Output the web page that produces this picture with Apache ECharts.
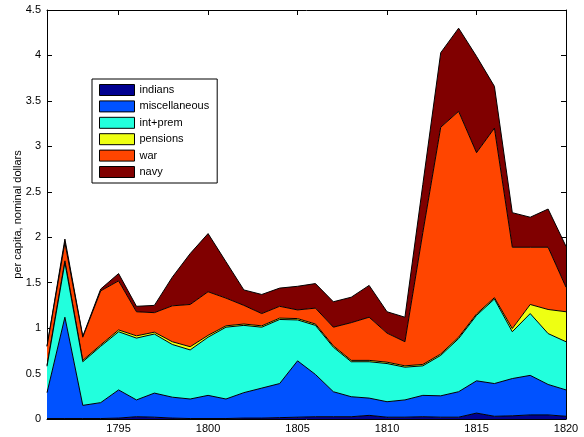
<!DOCTYPE html>
<html>
<head>
<meta charset="utf-8">
<script src="https://cdn.jsdelivr.net/npm/echarts@6/dist/echarts.min.js"></script>
<style>
  html, body { margin: 0; padding: 0; background: #fff; }
  #chart { width: 584px; height: 437px; }
</style>
</head>
<body>
<div id="chart"></div>
<script>
// Federal outlays per capita by category, 1791-1820 (nominal dollars)
const years = [1791, 1792, 1793, 1794, 1795, 1796, 1797, 1798, 1799, 1800,
               1801, 1802, 1803, 1804, 1805, 1806, 1807, 1808, 1809, 1810,
               1811, 1812, 1813, 1814, 1815, 1816, 1817, 1818, 1819, 1820];

const indians = [0.005, 0.005, 0.005, 0.005, 0.01, 0.025, 0.02, 0.01, 0.005, 0.005,
                 0.005, 0.01, 0.01, 0.015, 0.02, 0.025, 0.025, 0.025, 0.04, 0.02,
                 0.02, 0.025, 0.02, 0.02, 0.065, 0.03, 0.035, 0.045, 0.045, 0.03];

const miscellaneous = [0.285, 1.115, 0.145, 0.175, 0.31, 0.185, 0.265, 0.23, 0.215, 0.255,
                       0.215, 0.28, 0.33, 0.375, 0.62, 0.465, 0.275, 0.22, 0.19, 0.17,
                       0.19, 0.235, 0.235, 0.28, 0.355, 0.36, 0.41, 0.435, 0.335, 0.29];

const intPrem = [0.29, 0.60, 0.48, 0.62, 0.64, 0.68, 0.65, 0.58, 0.54, 0.64,
                 0.79, 0.74, 0.67, 0.705, 0.45, 0.54, 0.49, 0.385, 0.40, 0.42,
                 0.36, 0.325, 0.445, 0.585, 0.72, 0.93, 0.515, 0.68, 0.56, 0.53];

const pensions = [0.01, 0.02, 0.015, 0.015, 0.02, 0.025, 0.02, 0.03, 0.035, 0.02,
                  0.015, 0.015, 0.015, 0.015, 0.015, 0.015, 0.015, 0.015, 0.015, 0.015,
                  0.015, 0.015, 0.015, 0.015, 0.015, 0.015, 0.035, 0.10, 0.265, 0.33];

const war = [0.21, 0.20, 0.255, 0.595, 0.54, 0.265, 0.215, 0.395, 0.465, 0.48,
             0.305, 0.205, 0.135, 0.13, 0.095, 0.175, 0.205, 0.415, 0.475, 0.32,
             0.265, 1.45, 2.495, 2.485, 1.775, 1.865, 0.895, 0.63, 0.685, 0.27];

const navy = [0.0, 0.04, 0.01, 0.02, 0.08, 0.06, 0.08, 0.315, 0.56, 0.64,
              0.40, 0.17, 0.21, 0.20, 0.26, 0.27, 0.28, 0.28, 0.35, 0.235,
              0.27, 0.53, 0.82, 0.915, 1.06, 0.46, 0.38, 0.33, 0.42, 0.45];

const layers = [
  { name: 'indians', values: indians, color: '#000090' },
  { name: 'miscellaneous', values: miscellaneous, color: '#0052FF' },
  { name: 'int+prem', values: intPrem, color: '#22FFDD' },
  { name: 'pensions', values: pensions, color: '#EEFF12' },
  { name: 'war', values: war, color: '#FF4500' },
  { name: 'navy', values: navy, color: '#800000' }
];

const FONT = 'Liberation Sans, Arial, Helvetica, sans-serif';
const everyFifth = (idx, val) => Number(val) % 5 === 0;

const chart = echarts.init(document.getElementById('chart'), null, { renderer: 'canvas' });

const series = layers.map((layer, i) => ({
  name: layer.name,
  type: 'line',
  stack: 'total',
  symbol: 'none',
  z: 10 - i,
  lineStyle: { color: '#000', width: 1 },
  areaStyle: { color: layer.color, opacity: 1 },
  itemStyle: { color: layer.color, borderColor: '#000', borderWidth: 1 },
  emphasis: { disabled: true },
  data: layer.values
}));

const categoryAxis = (pos, showLabels) => ({
  type: 'category',
  position: pos,
  data: years.map(String),
  boundaryGap: false,
  splitLine: { show: false },
  axisLine: { show: true, onZero: false, lineStyle: { color: '#000', width: 1 } },
  axisTick: { show: true, inside: true, length: 5, interval: everyFifth, alignWithLabel: true, lineStyle: { color: '#000' } },
  axisLabel: { show: showLabels, interval: everyFifth, color: '#000', fontSize: 11, margin: 4, fontFamily: FONT }
});

const valueAxis = (pos) => ({
  type: 'value',
  position: pos,
  min: 0,
  max: 4.5,
  interval: 0.5,
  splitLine: { show: false },
  axisLine: { show: true, onZero: false, lineStyle: { color: '#000', width: 1 } },
  axisTick: { show: true, inside: true, length: 5, lineStyle: { color: '#000' } },
  axisLabel: { show: pos === 'left', color: '#000', fontSize: 11, margin: 6, fontFamily: FONT }
});

const leftAxis = Object.assign(valueAxis('left'), {
  name: 'per capita, nominal dollars',
  nameLocation: 'middle',
  nameGap: 24,
  nameMoveOverlap: false,
  nameTextStyle: { fontSize: 11, color: '#000', fontFamily: FONT }
});

const option = {
  animation: false,
  textStyle: { fontFamily: FONT },
  grid: { left: 47, right: 18, top: 10, bottom: 18, containLabel: false, outerBoundsMode: 'none' },
  legend: {
    orient: 'vertical',
    left: 92,
    top: 79,
    padding: [5, 8, 5, 7],
    itemWidth: 35,
    itemHeight: 11,
    itemGap: 4.4,
    backgroundColor: '#fff',
    borderColor: '#000',
    borderWidth: 1,
    borderRadius: 0,
    icon: 'rect',
    itemStyle: { borderColor: '#000', borderWidth: 1 },
    textStyle: { fontSize: 11, color: '#000', fontFamily: FONT },
    selectedMode: false,
    data: layers.map(l => l.name)
  },
  xAxis: [categoryAxis('bottom', true), categoryAxis('top', false)],
  yAxis: [leftAxis, valueAxis('right')],
  series: series
};

chart.setOption(option);
</script>
</body>
</html>
